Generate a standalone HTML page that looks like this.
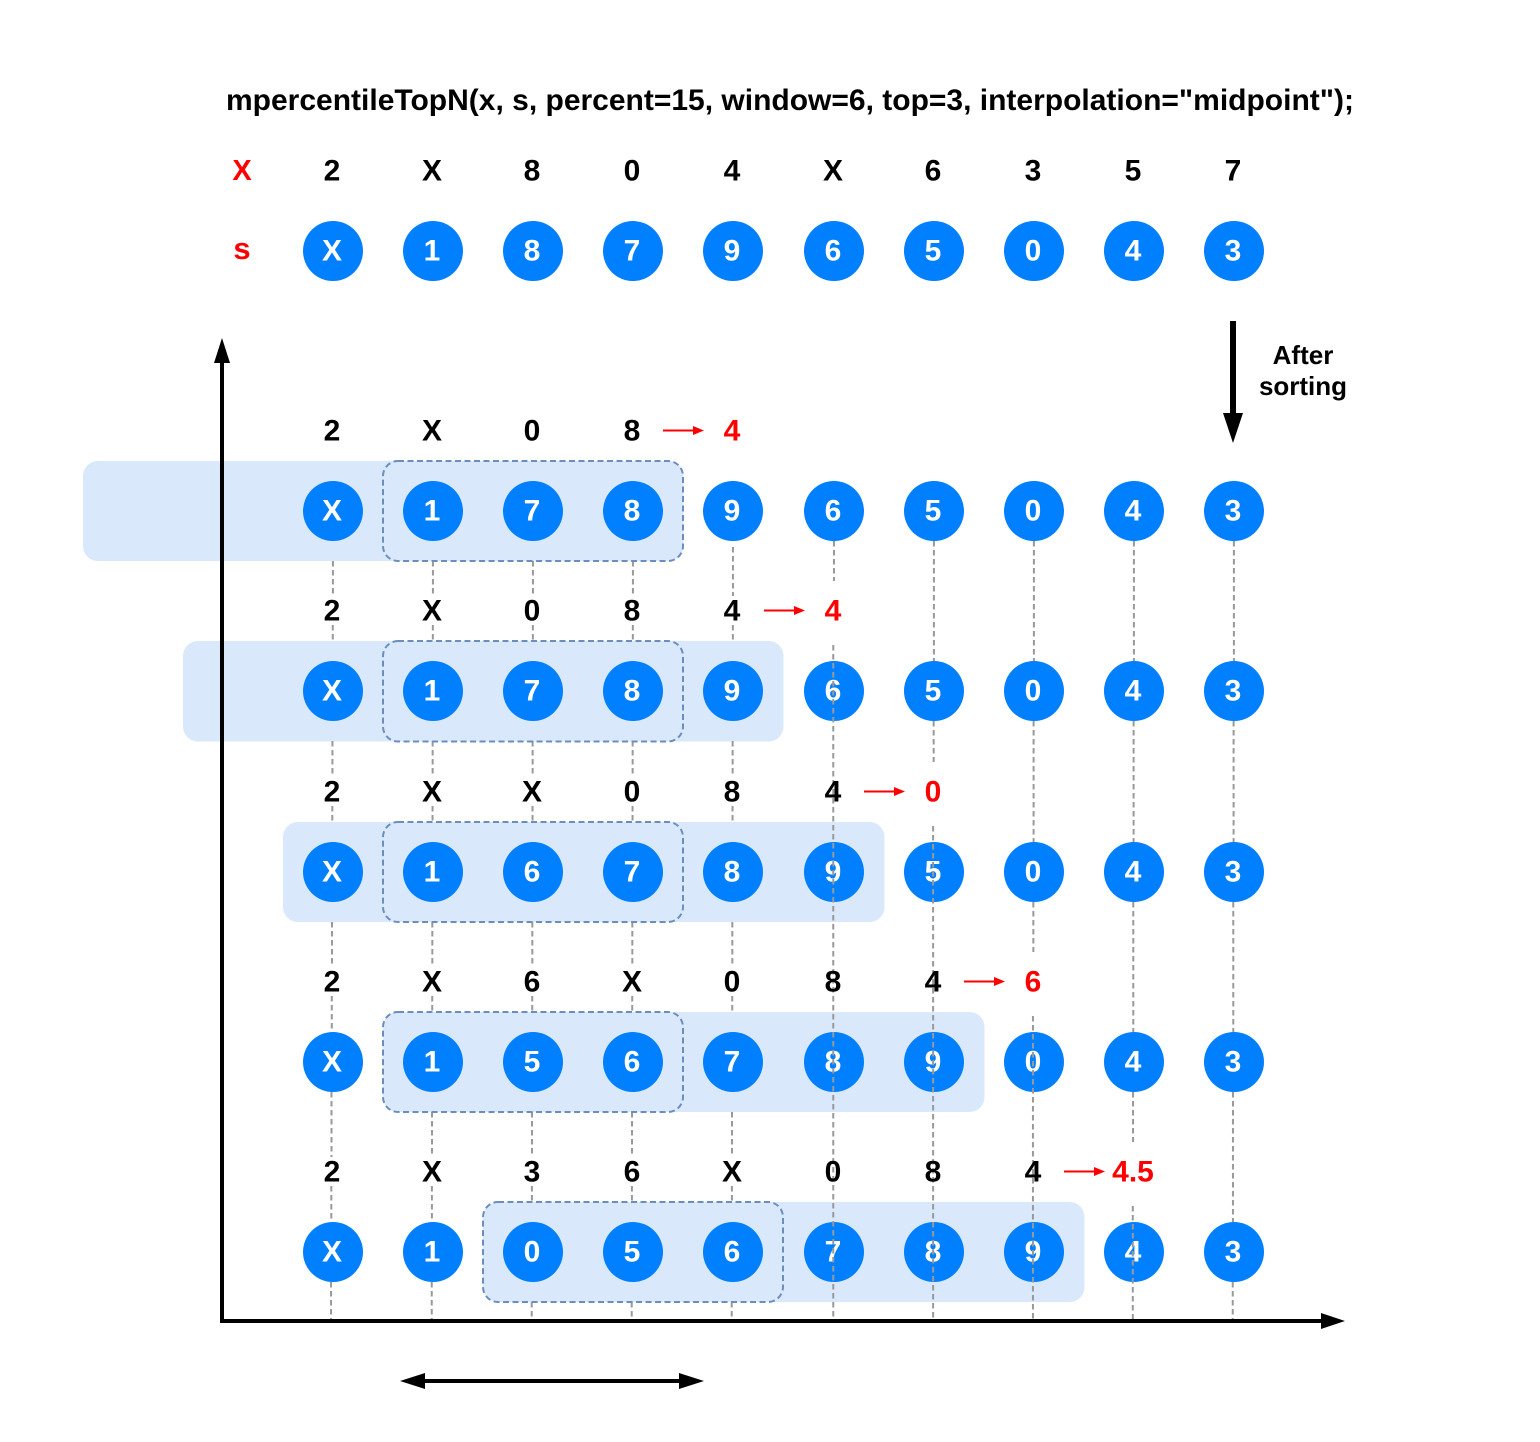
<!DOCTYPE html>
<html lang="en">
<head>
<meta charset="utf-8">
<title>mpercentileTopN diagram</title>
<style>
html,body{margin:0;padding:0;background:#fff;width:1540px;height:1442px;overflow:hidden}
svg{display:block}
text{font-family:"Liberation Sans",Arial,sans-serif;font-weight:bold}
</style>
</head>
<body>
<svg id="diagram" xmlns="http://www.w3.org/2000/svg" width="1540" height="1442" viewBox="0 0 1540 1442">
  <rect width="1540" height="1442" fill="#ffffff"/>
  <text x="226" y="110" font-size="30" textLength="1128" lengthAdjust="spacing" fill="#000">mpercentileTopN(x, s, percent=15, window=6, top=3, interpolation="midpoint");</text>
  <text x="242" y="180" font-size="29" text-anchor="middle" fill="#ff0000">X</text>
  <text x="242" y="259" font-size="31" text-anchor="middle" fill="#ff0000">s</text>
  <text x="1303" y="364" font-size="26" text-anchor="middle" fill="#000">After</text>
  <text x="1303" y="395" font-size="26" text-anchor="middle" fill="#000">sorting</text>
  <g id="bands"></g>
  <g id="circles"></g>
  <g id="guides" stroke="#999999" stroke-width="2" stroke-dasharray="5.5 3.5" fill="none"></g>
  <g id="windows"></g>
  <g id="labels"></g>
  <g id="results"></g>
  <g>
    <rect x="220" y="360" width="4" height="963" fill="#000"/>
    <polygon points="222,338 230,363 214,363" fill="#000"/>
  </g>
  <g>
    <rect x="222" y="1319" width="1102" height="4" fill="#000"/>
    <polygon points="1345,1321 1321,1313 1321,1329" fill="#000"/>
  </g>
  <g>
    <rect x="1230" y="321" width="6" height="94" fill="#000"/>
    <polygon points="1233,443 1223,413 1243,413" fill="#000"/>
  </g>
  <g>
    <rect x="424" y="1379" width="256" height="4" fill="#000"/>
    <polygon points="400,1381 425,1373 425,1389" fill="#000"/>
    <polygon points="704,1381 679,1373 679,1389" fill="#000"/>
  </g>
</svg>
<script>
// Input row
const inputX = ['2','X','8','0','4','X','6','3','5','7'];
const inputS = ['X','1','8','7','9','6','5','0','4','3'];
// Sorted rows: x labels above, s values in circles
const rowLabels = [
  ['2','X','0','8'],
  ['2','X','0','8','4'],
  ['2','X','X','0','8','4'],
  ['2','X','6','X','0','8','4'],
  ['2','X','3','6','X','0','8','4']
];
const rowValues = [
  ['X','1','7','8','9','6','5','0','4','3'],
  ['X','1','7','8','9','6','5','0','4','3'],
  ['X','1','6','7','8','9','5','0','4','3'],
  ['X','1','5','6','7','8','9','0','4','3'],
  ['X','1','0','5','6','7','8','9','4','3']
];
const rowResults = ['4','4','0','6','4.5'];
const bandStarts = [-2,-1,0,1,2];
const windowStarts = [1,1,1,1,2];
const windowLength = 6;
const topN = 3;

const NS = 'http://www.w3.org/2000/svg';
function colX(i){ return i < 5 ? 333 + i * 100 : 834 + (i - 5) * 100; }
function rowCy(r){ return [511,691,872,1062,1252][r]; }
function make(parent, tag, attrs, txt){
  const el = document.createElementNS(NS, tag);
  for (const k in attrs) el.setAttribute(k, attrs[k]);
  if (txt !== undefined) el.textContent = txt;
  parent.appendChild(el);
  return el;
}
const bands = document.getElementById('bands');
const circles = document.getElementById('circles');
const guides = document.getElementById('guides');
const windows = document.getElementById('windows');
const labels = document.getElementById('labels');
const results = document.getElementById('results');

function drawCircle(c, cy, value, nm){
  const circ = make(circles, 'circle', {cx: colX(c), cy: cy, r: 30, fill: '#007fff'});
  
  
  const t = make(circles, 'text', {x: colX(c) - 1, y: cy + 9.5, 'font-size': 30, 'text-anchor': 'middle', fill: '#ffffff'}, value);
  
  
}
function drawLabel(c, baseline, value, nm){
  const t = make(labels, 'text', {x: colX(c) - 1, y: baseline, 'font-size': 30, 'text-anchor': 'middle', fill: '#000000'}, value);
  
  
}

inputX.forEach(function(v, c){ drawLabel(c, 180.5, v, 'input-x-' + c); });
inputS.forEach(function(v, c){ drawCircle(c, 251, v, 'input-s-' + c); });

rowValues.forEach(function(vals, r){
  const cy = rowCy(r);
  const bx = colX(bandStarts[r]) - 50;
  const bw = colX(bandStarts[r] + windowLength - 1) + 50.5 - bx;
  const band = make(bands, 'rect', {x: bx, y: cy - 50, width: bw, height: r === 1 ? 100.5 : 100, rx: 15, ry: 15, fill: '#dae8fc'});
  
  

  const wx = colX(windowStarts[r]) - 50;
  const ww = colX(windowStarts[r] + topN - 1) + 50 - wx;
  const win = make(windows, 'rect', {x: wx, y: cy - 50, width: ww, height: r === 1 ? 100.5 : 100, rx: 15, ry: 15, fill: 'none', stroke: '#6c8ebf', 'stroke-width': 2, 'stroke-dasharray': '6 3.5'});
  
  

  vals.forEach(function(v, c){ drawCircle(c, cy, v, 'row-' + r + '-s-' + c); });

  const base = cy - 70.5;
  rowLabels[r].forEach(function(v, c){ drawLabel(c, base, v, 'row-' + r + '-x-' + c); });

  const rc = rowLabels[r].length;
  const ly = cy - 80.5;
  const res = make(results, 'text', {x: colX(rc) - 1, y: base, 'font-size': 30, 'text-anchor': 'middle', fill: '#ff0000'}, rowResults[r]);
  
  
  const ax = colX(rc) - 70;
  const shaft = make(results, 'line', {x1: ax, y1: ly, x2: ax + 31, y2: ly, stroke: '#ff0000', 'stroke-width': 2});
  
  
  const head = make(results, 'polygon', {points: (ax+41)+','+ly+' '+(ax+30)+','+(ly-4.5)+' '+(ax+30)+','+(ly+4.5), fill: '#ff0000'});
  
  
});

function obstaclesFor(c){
  const obs = [];
  const release = c >= 5 && c <= 8 ? c - 4 : 99;
  rowValues.forEach(function(_, r){
    const cy = rowCy(r);
    if (c <= 4) {
      const inBand = c >= bandStarts[r] && c <= bandStarts[r] + windowLength - 1;
      if (inBand) obs.push([cy - 50, cy + 50]); else obs.push([cy - 30, cy + 30]);
      if (r >= 1 && c < rowLabels[r].length) obs.push([cy - 95, cy - 66]);
    } else {
      if (r < release) obs.push([cy - 30, cy + 30]);
      if (r === release) obs.push([cy - 110, cy - 46]);
    }
  });
  return obs.sort(function(a, b){ return a[0] - b[0]; });
}

for (let c = 0; c < 10; c++) {
  let y = rowCy(0) + (c <= 3 ? 50 : c === 4 ? 36 : 30);
  const obs = obstaclesFor(c);
  const segs = [];
  obs.forEach(function(o){
    if (o[0] > y) segs.push([y, o[0]]);
    if (o[1] > y) y = o[1];
  });
  if (y < 1320) segs.push([y, 1320]);
  segs.forEach(function(s, i){
    const x = colX(c) - (c === 0 ? 2 : 1.3) * ((s[0] + s[1]) / 2 - 541) / 780;
    const seg = make(guides, 'line', {x1: x, y1: s[0], x2: x, y2: s[1]});
    
    
  });
}
</script>
</body>
</html>
